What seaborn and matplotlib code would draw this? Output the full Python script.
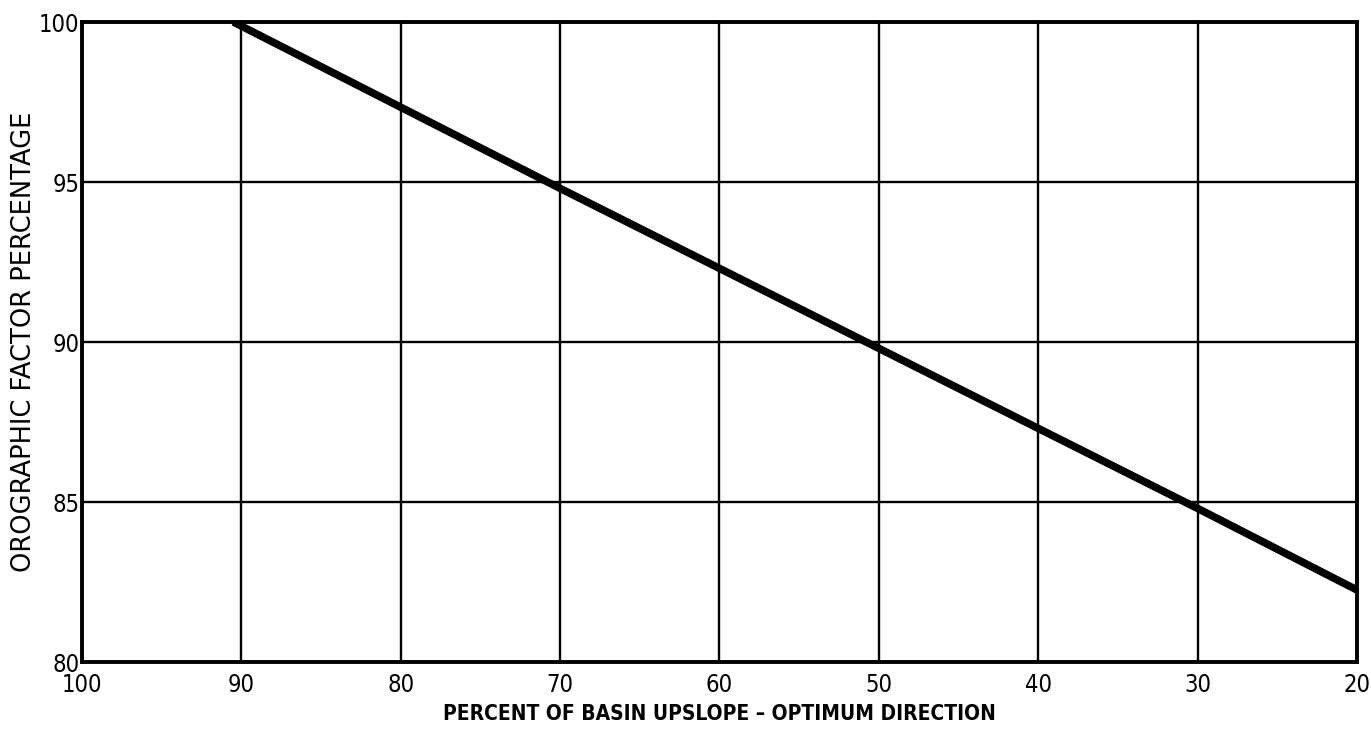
import matplotlib
matplotlib.use("Agg")
import matplotlib.pyplot as plt
import seaborn as sns
import pandas as pd

# Orographic factor vs. share of basin upslope in the optimum direction
upslope_pct = [90.5, 70, 50, 30, 20]
orographic_pct = [100.0, 94.8, 89.8, 84.8, 82.25]

x_ticks = [100, 90, 80, 70, 60, 50, 40, 30, 20]
y_ticks = [80, 85, 90, 95, 100]

df = pd.DataFrame({"upslope": upslope_pct, "factor": orographic_pct})

sns.set_theme(style="white")
plt.rcParams["font.family"] = ["DejaVu Sans"]

fig = plt.figure(figsize=(13.71, 7.32), dpi=100)
ax = fig.add_axes([82 / 1371, 1 - 662 / 732, (1357 - 82) / 1371, (662 - 22) / 732])

sns.lineplot(data=df, x="upslope", y="factor", ax=ax, color="black",
             linewidth=5.5, solid_capstyle="butt", zorder=3)

ax.set_xlim(100, 20)
ax.set_ylim(80, 100)
ax.set_xticks(x_ticks)
ax.set_yticks(y_ticks)
ax.set_xticklabels([str(v) for v in x_ticks], fontsize=17, fontstretch="condensed")
ax.set_yticklabels([str(v) for v in y_ticks], fontsize=17, fontstretch="condensed")
ax.tick_params(axis="both", length=0, colors="black")
ax.tick_params(axis="x", pad=8)
ax.tick_params(axis="y", pad=2)

ax.grid(True, color="black", linewidth=1.7)
for s in ax.spines.values():
    s.set_visible(True)
    s.set_color("black")
    s.set_linewidth(2.8)

ax.set_xlabel("PERCENT OF BASIN UPSLOPE \u2013 OPTIMUM DIRECTION", fontsize=15,
              fontweight="bold", fontstretch="condensed", labelpad=5,
              color="black")
ax.set_ylabel("OROGRAPHIC FACTOR PERCENTAGE", fontsize=18.5, labelpad=1,
              color="black")

fig.savefig("out.png", dpi=100)
